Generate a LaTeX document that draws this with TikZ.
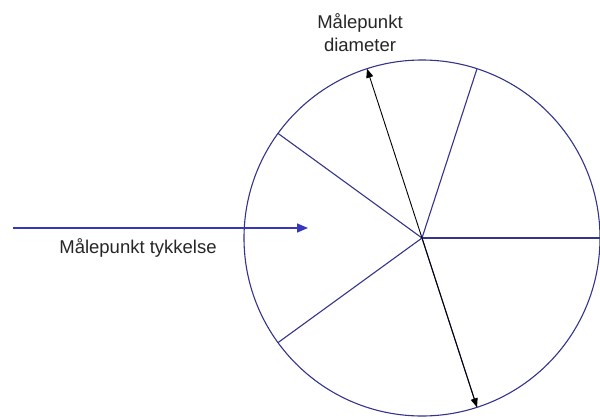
\documentclass[tikz,border=0pt]{standalone}
\usepackage{fontspec}
\setmainfont{Liberation Sans}
\usetikzlibrary{arrows.meta}

\definecolor{rimblue}{RGB}{52,52,140}
\definecolor{feedblue}{RGB}{55,55,190}

\begin{document}
\begin{tikzpicture}[
    x=1pt, y=-1pt,
    rim/.style={draw=rimblue, line width=1.1pt},
    spoke/.style={rimblue, line width=1.1pt},
    dia/.style={{Triangle[length=9pt,width=7pt]}-{Triangle[length=9pt,width=7pt]}, black, line width=0.9pt},
    feed/.style={-{Triangle[length=11pt,width=9pt]}, feedblue, line width=1.3pt},
    lbl/.style={font=\fontsize{18.5}{23}\selectfont, text=black!85, align=center, inner sep=0pt}
]
    \useasboundingbox (0,0) rectangle (600,418);

    % --- disc ---
    \node[rim, circle, minimum size=356pt, inner sep=0pt, outer sep=0pt] (disc) at (422,238) {};

    % --- spokes (five sectors) ---
    \foreach \a in {0,72,144,216,288}
        \draw[spoke] (disc.center) -- (disc.\a);

    % --- diameter measuring point ---
    \draw[dia] (disc.108.5) -- (disc.288.5);
    \node[lbl] (diamlbl) at (360,33) {Målepunkt\\diameter};

    % --- thickness measuring point ---
    \coordinate (feedstart) at (13,228);
    \coordinate (feedend) at (308,228);
    \draw[feed] (feedstart) -- (feedend);
    \node[lbl] (thicklbl) at (138,248) {Målepunkt tykkelse};
\end{tikzpicture}
\end{document}
